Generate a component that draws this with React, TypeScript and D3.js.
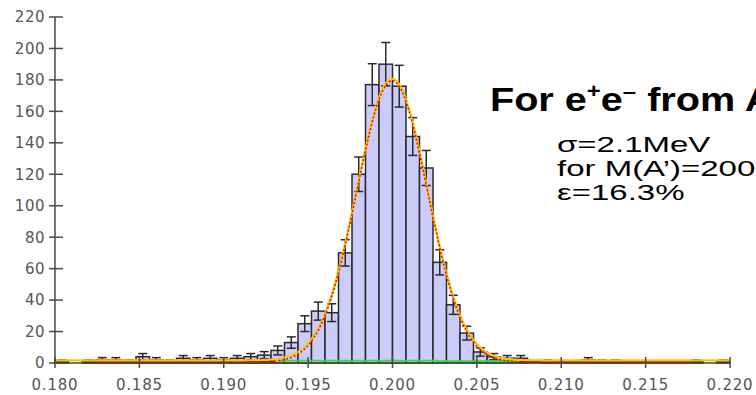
import { useEffect, useRef } from "react";
import * as d3 from "d3";

// histogram: 50 bins of 0.8 MeV from 0.180 to 0.220 GeV
const binStart = 0.18;
const binWidth = 0.0008;
const counts = [
  1, 0, 1, 2, 2, 1, 4, 2, 1, 3, 2, 3, 2, 3, 4, 5, 8, 13, 25, 33, 32, 70, 120,
  177, 190, 176, 144, 124, 64, 37, 19, 7, 4, 3, 3, 0, 1, 0, 0, 2, 1, 1, 0, 0,
  0, 0, 0, 1, 0, 1,
];

const xTicks = [0.18, 0.185, 0.19, 0.195, 0.2, 0.205, 0.21, 0.215, 0.22];
const yTicks = [0, 20, 40, 60, 80, 100, 120, 140, 160, 180, 200, 220];

// gaussian fit (sigma from the annotation)
const fitMean = 0.19998;
const fitSigma = 0.0021;
const fitAmp = 179;
const fitBgTotal = 1.7;
const fitBgSignal = 0.4;
const redRange = [0.1822, 0.2177];
const redDashRange = [0.193, 0.2075];

// background estimate (green)
const bgSteps = [
  { x0: 0.1932, x1: 0.2027, v: 1.5 },
  { x0: 0.2027, x1: 0.2082, v: 1.1 },
];

const titleParts = ["For e", "+", "e", "\u2013", " from A\u2019"];
const infoLines = ["\u03c3=2.1MeV", "for M(A\u2019)=200", "\u03b5=16.3%"];

const W = 756;
const H = 395;

export default function App() {
  const svgRef = useRef<SVGSVGElement>(null);

  useEffect(() => {
    if (!svgRef.current) return;
    const svg = d3.select(svgRef.current);
    svg.selectAll("*").remove();

    const x = d3.scaleLinear().domain([0.18, 0.22]).range([55, 730]);
    const y = d3.scaleLinear().domain([0, 220]).range([363, 17]);

    const bins = counts.map((c, i) => ({
      x0: binStart + i * binWidth,
      x1: binStart + (i + 1) * binWidth,
      c,
    }));
    const filled = bins.filter((b) => b.c > 0);

    // Bars
    svg
      .append("g")
      .selectAll("rect")
      .data(filled)
      .enter()
      .append("rect")
      .attr("x", (d) => x(d.x0))
      .attr("y", (d) => y(d.c))
      .attr("width", (d) => x(d.x1) - x(d.x0))
      .attr("height", (d) => y(0) - y(d.c))
      .attr("fill", "#ccccfa")
      .attr("stroke", "#2a2a2a")
      .attr("stroke-width", 1.5);

    // Error bars
    const eb = svg.append("g").attr("stroke", "#2a2a2a").attr("stroke-width", 1.5);
    filled.forEach((b) => {
      const cx = x((b.x0 + b.x1) / 2);
      const lo = y(Math.max(0, b.c - Math.sqrt(b.c)));
      const hi = y(b.c + Math.sqrt(b.c));
      eb.append("line").attr("x1", cx).attr("x2", cx).attr("y1", lo).attr("y2", hi);
      eb.append("line").attr("x1", cx - 4.5).attr("x2", cx + 4.5).attr("y1", lo).attr("y2", lo);
      eb.append("line").attr("x1", cx - 4.5).attr("x2", cx + 4.5).attr("y1", hi).attr("y2", hi);
    });

    const gauss = (v: number) =>
      fitAmp * Math.exp(-0.5 * Math.pow((v - fitMean) / fitSigma, 2));

    // Background (green)
    const green = d3
      .line<{ x: number; v: number }>()
      .x((d) => x(d.x))
      .y((d) => y(d.v));
    const greenPts: { x: number; v: number }[] = [];
    bgSteps.forEach((s) => {
      greenPts.push({ x: s.x0, v: s.v }, { x: s.x1, v: s.v });
    });
    svg
      .append("path")
      .attr("d", green(greenPts))
      .attr("fill", "none")
      .attr("stroke", "#33dd33")
      .attr("stroke-width", 1.8);

    const curve = (a: number, b: number, bg: number) => {
      const pts = d3.range(a, b + 1e-9, (b - a) / 300);
      return d3
        .line<number>()
        .x((v) => x(v))
        .y((v) => y(bg + gauss(v)))(pts);
    };

    // Red flat tails
    svg
      .append("path")
      .attr("d", curve(redRange[0], redDashRange[0], fitBgSignal))
      .attr("fill", "none")
      .attr("stroke", "#c40000")
      .attr("stroke-width", 2.6);
    svg
      .append("path")
      .attr("d", curve(redDashRange[1], redRange[1], fitBgSignal))
      .attr("fill", "none")
      .attr("stroke", "#c40000")
      .attr("stroke-width", 2.6);

    // Orange total fit
    svg
      .append("path")
      .attr("d", curve(0.18, 0.22, fitBgTotal))
      .attr("fill", "none")
      .attr("stroke", "#ffc400")
      .attr("stroke-width", 2.2);

    // Red dashed signal fit
    svg
      .append("path")
      .attr("d", curve(redDashRange[0], redDashRange[1], fitBgSignal))
      .attr("fill", "none")
      .attr("stroke", "#e01818")
      .attr("stroke-width", 1.6)
      .attr("stroke-dasharray", "2,2");

    // Axes
    const axisColor = "#4a4a4a";
    const ax = svg.append("g").attr("stroke", axisColor).attr("stroke-width", 1.5);
    ax.append("line").attr("x1", 55).attr("x2", 55).attr("y1", y(220)).attr("y2", y(0));
    ax.append("line").attr("x1", 55).attr("x2", x(0.22)).attr("y1", y(0)).attr("y2", y(0));
    yTicks.forEach((t) => {
      ax.append("line").attr("x1", 49).attr("x2", 63).attr("y1", y(t)).attr("y2", y(t));
    });
    xTicks.forEach((t) => {
      ax.append("line").attr("x1", x(t)).attr("x2", x(t)).attr("y1", y(0) - 6).attr("y2", y(0) + 5);
    });

    const lab = svg
      .append("g")
      .attr("fill", "#555")
      .attr("font-family", "DejaVu Sans, Verdana, sans-serif")
      .attr("font-size", 15);
    yTicks.forEach((t) => {
      lab
        .append("text")
        .attr("x", 45)
        .attr("y", y(t))
        .attr("dy", "0.36em")
        .attr("text-anchor", "end")
        .attr("letter-spacing", 0.5)
        .text(t);
    });
    xTicks.forEach((t) => {
      lab
        .append("text")
        .attr("x", x(t))
        .attr("y", 390)
        .attr("text-anchor", "middle")
        .attr("letter-spacing", 0.8)
        .text(d3.format(".3f")(t));
    });

    // Title
    const title = svg
      .append("text")
      .attr("transform", "translate(490,111) scale(1.2,1)")
      .attr("font-family", "Liberation Sans, Arial, sans-serif")
      .attr("font-weight", "bold")
      .attr("font-size", 33)
      .attr("fill", "#000");
    titleParts.forEach((p, i) => {
      const sup = i === 1 || i === 3;
      title
        .append("tspan")
        .attr("font-size", sup ? 20 : 33)
        .attr("dy", sup ? -13 : i === 0 ? 0 : 13)
        .text(p);
    });

    infoLines.forEach((s, i) => {
      svg
        .append("text")
        .attr("transform", `translate(557,${152 + i * 24}) scale(1.5,1)`)
        .attr("font-family", "Liberation Sans, Arial, sans-serif")
        .attr("font-size", 22)
        .attr("fill", "#000")
        .text(s);
    });
  }, []);

  return (
    <svg
      ref={svgRef}
      width={W}
      height={H}
      style={{ position: "absolute", left: 0, top: 0, background: "#fff" }}
    ></svg>
  );
}
